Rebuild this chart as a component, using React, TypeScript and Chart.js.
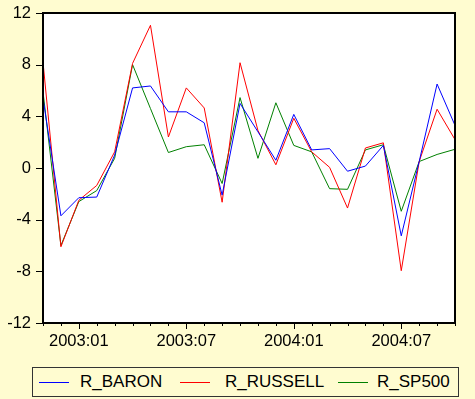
import React, { useEffect, useRef } from "react";
import { Chart, registerables } from "chart.js";

Chart.register(...registerables);

const months: string[] = [
  "2002:11", "2002:12",
  "2003:01", "2003:02", "2003:03", "2003:04", "2003:05", "2003:06",
  "2003:07", "2003:08", "2003:09", "2003:10", "2003:11", "2003:12",
  "2004:01", "2004:02", "2004:03", "2004:04", "2004:05", "2004:06",
  "2004:07", "2004:08", "2004:09", "2004:10",
];

const shownLabels: string[] = ["2003:01", "2003:07", "2004:01", "2004:07"];

const rBaron: number[] = [
  5.4, -3.7, -2.3, -2.25, 1.0, 6.2, 6.35, 4.35, 4.35, 3.5, -2.1, 5.0,
  2.8, 0.6, 4.15, 1.4, 1.5, -0.25, 0.15, 1.75, -5.25, 0.5, 6.5, 3.3,
];
const rRussell: number[] = [
  8.2, -6.1, -2.5, -1.35, 1.25, 8.1, 11.05, 2.4, 6.2, 4.65, -2.65, 8.15,
  2.9, 0.25, 3.85, 1.25, 0.05, -3.1, 1.55, 1.95, -7.95, 0.5, 4.55, 2.2,
];
const rSp500: number[] = [
  5.9, -6.0, -2.6, -1.75, 0.75, 8.0, 4.6, 1.2, 1.65, 1.8, -1.2, 5.45,
  0.75, 5.05, 1.75, 1.25, -1.6, -1.65, 1.4, 1.8, -3.35, 0.5, 1.05, 1.45,
];

const yTicks: number[] = [-12, -8, -4, 0, 4, 8, 12];

const seriesNames = ["R_BARON", "R_RUSSELL", "R_SP500"];
const seriesColors = ["#0000FF", "#FF0000", "#008000"];

const BG = "#FFFCD0";
const FONT = "'Liberation Sans', Arial, sans-serif";

const framePlugin = {
  id: "frameTicks",
  beforeDatasetsDraw(chart: any) {
    const { ctx, chartArea } = chart;
    ctx.save();
    ctx.fillStyle = "#FFFFFF";
    ctx.fillRect(chartArea.left, chartArea.top, chartArea.right - chartArea.left, chartArea.bottom - chartArea.top);
    ctx.restore();
  },
  afterDraw(chart: any) {
    const { ctx, chartArea, scales } = chart;
    const { left, right, top, bottom } = chartArea;
    ctx.save();
    ctx.strokeStyle = "#000000";
    ctx.lineWidth = 2;
    ctx.strokeRect(left, top, right - left, bottom - top);
    ctx.lineWidth = 1;
    yTicks.forEach((v) => {
      const y = Math.round(scales.y.getPixelForValue(v)) + 0.5;
      ctx.beginPath();
      ctx.moveTo(left - 7, y);
      ctx.lineTo(left, y);
      ctx.stroke();
    });
    months.forEach((m, i) => {
      const x = Math.round(scales.x.getPixelForValue(i)) + 0.5;
      const major = shownLabels.includes(m);
      ctx.beginPath();
      ctx.moveTo(x, bottom);
      ctx.lineTo(x, bottom + (major ? 6 : 3));
      ctx.stroke();
    });
    ctx.restore();
  },
};

export default function App() {
  const ref = useRef<HTMLCanvasElement | null>(null);

  useEffect(() => {
    if (!ref.current) return;
    const data = [rBaron, rRussell, rSp500];
    const chart = new Chart(ref.current, {
      type: "line",
      data: {
        labels: months,
        datasets: seriesNames.map((name, k) => ({
          label: name,
          data: data[k],
          borderColor: seriesColors[k],
          backgroundColor: seriesColors[k],
          borderWidth: 1,
          pointRadius: 0,
          tension: 0,
          fill: false,
        })),
      },
      options: {
        animation: false,
        responsive: false,
        maintainAspectRatio: false,
        layout: { padding: { top: 13, right: 20, left: 0, bottom: 0 } },
        plugins: {
          legend: { display: false },
          tooltip: { enabled: false },
        },
        scales: {
          x: {
            type: "category",
            offset: false,
            grid: { display: false, drawTicks: false },
            border: { display: false },
            ticks: {
              autoSkip: false,
              maxRotation: 0,
              minRotation: 0,
              padding: 9,
              color: "#000000",
              font: { family: FONT, size: 16.5 },
              callback: (v: any) => {
                const m = months[v as number];
                return shownLabels.includes(m) ? m : "";
              },
            },
            afterFit: (s: any) => {
              s.height = 76;
              s.paddingLeft = 0;
              s.paddingRight = 0;
            },
          },
          y: {
            min: -12,
            max: 12,
            grid: { display: false, drawTicks: false },
            border: { display: false },
            ticks: {
              stepSize: 4,
              padding: 12,
              color: "#000000",
              font: { family: FONT, size: 16.5 },
            },
            afterFit: (s: any) => {
              s.width = 43;
              s.paddingTop = 0;
              s.paddingBottom = 0;
            },
          },
        },
      },
      plugins: [framePlugin],
    });
    return () => chart.destroy();
  }, []);

  const legendItems = [
    { lineX: 39, textX: 80 },
    { lineX: 180, textX: 225 },
    { lineX: 338, textX: 377 },
  ];

  return (
    <div
      style={{
        position: "fixed",
        left: 0,
        top: 0,
        width: 475,
        height: 399,
        background: BG,
        overflow: "hidden",
      }}
    >
      <canvas ref={ref} width={475} height={399} style={{ position: "absolute", left: 0, top: 0, width: 475, height: 399 }} />
      <div
        style={{
          position: "absolute",
          left: 32,
          top: 367,
          width: 427,
          height: 30,
          border: "1px solid #333",
          boxSizing: "border-box",
          background: BG,
        }}
      />
      {legendItems.map((it, k) => (
        <React.Fragment key={seriesNames[k]}>
          <div
            style={{
              position: "absolute",
              left: it.lineX,
              top: 382,
              width: 30,
              height: 1,
              background: seriesColors[k],
            }}
          />
          <div
            style={{
              position: "absolute",
              left: it.textX,
              top: 372,
              height: 20,
              lineHeight: "20px",
              fontFamily: FONT,
              fontSize: 17,
              color: "#000",
              whiteSpace: "nowrap",
            }}
          >
            {seriesNames[k]}
          </div>
        </React.Fragment>
      ))}
    </div>
  );
}
